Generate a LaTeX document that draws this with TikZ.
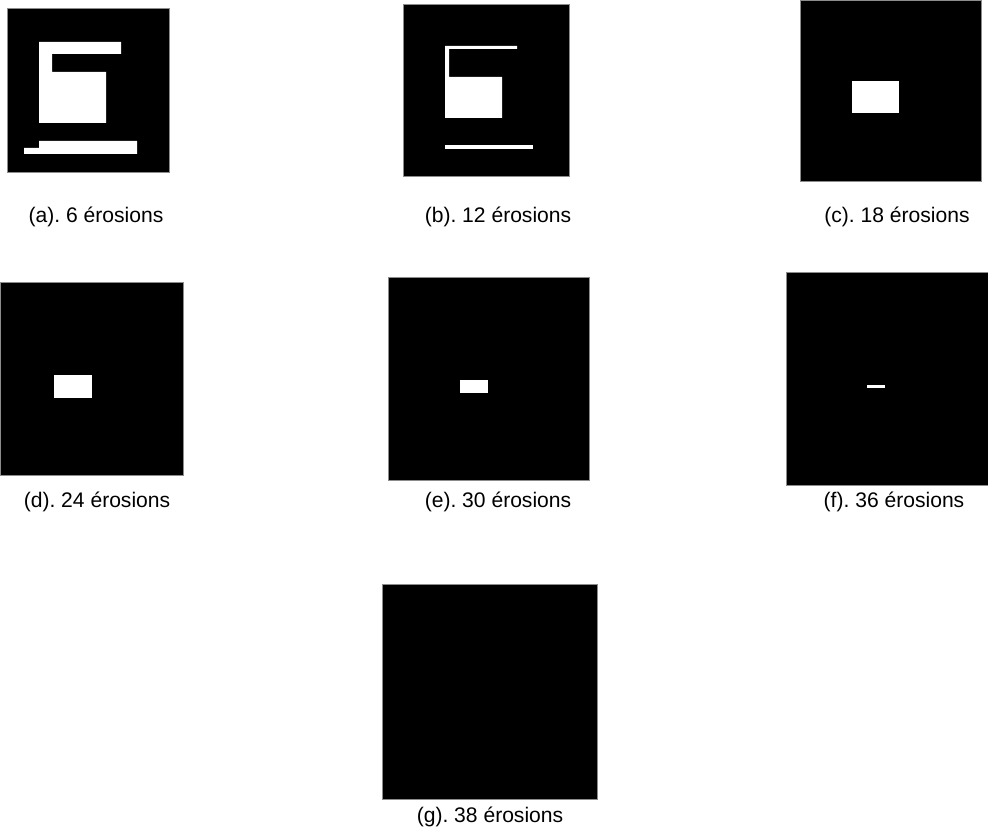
\documentclass[tikz,border=0pt]{standalone}
\usepackage{fontspec}
\setmainfont{Liberation Sans}
\usetikzlibrary{positioning}
\frenchspacing

\begin{document}
\begin{tikzpicture}[x=0.02cm, y=-0.02cm,
  img/.style={fill=black, draw=black!45, line width=0.3pt},
  hole/.style={fill=white},
  caption/.style={anchor=base, inner sep=0pt, font=\fontsize{12}{14}\selectfont}]
  \useasboundingbox (0,0) rectangle (988,830);
  % (a) 6 erosions
  \filldraw[img] (7,8) rectangle (169,172);
  \fill[hole] (39,42) -- (121,42) -- (121,54) -- (52,54) -- (52,72) -- (106,72) -- (106,123) -- (39,123) -- cycle;
  \fill[hole] (24,148) -- (39,148) -- (39,141) -- (137,141) -- (137,154) -- (24,154) -- cycle;
  \node[caption] (capa) at (96,223) {(a). 6 érosions};
  % (b) 12 erosions
  \filldraw[img] (403,4) rectangle (569,176);
  \fill[hole] (445,46) -- (517,46) -- (517,49) -- (449,49) -- (449,77) -- (502,77) -- (502,118) -- (445,118) -- cycle;
  \fill[hole] (445,145) rectangle (533,149);
  \node[caption] (capb) at (498,223) {(b). 12 érosions};
  % (c) 18 erosions
  \filldraw[img] (800,0) rectangle (981,181);
  \fill[hole] (852,81) rectangle (899,113);
  \node[caption] (capc) at (897,223) {(c). 18 érosions};
  % (d) 24 erosions
  \filldraw[img] (0,282) rectangle (183,475);
  \fill[hole] (54,375) rectangle (92,398);
  \node[caption] (capd) at (97,508) {(d). 24 érosions};
  % (e) 30 erosions
  \filldraw[img] (388,277) rectangle (589,480);
  \fill[hole] (460,380) rectangle (488,393);
  \node[caption] (cape) at (498,508) {(e). 30 érosions};
  % (f) 36 erosions
  \filldraw[img] (786,272) rectangle (988,485);
  \fill[hole] (867,385) rectangle (885,388);
  \node[caption] (capf) at (894,508) {(f). 36 érosions};
  % (g) 38 erosions
  \filldraw[img] (382,584) rectangle (597,799);
  \node[caption] (capg) at (490,823) {(g). 38 érosions};
\end{tikzpicture}
\end{document}
